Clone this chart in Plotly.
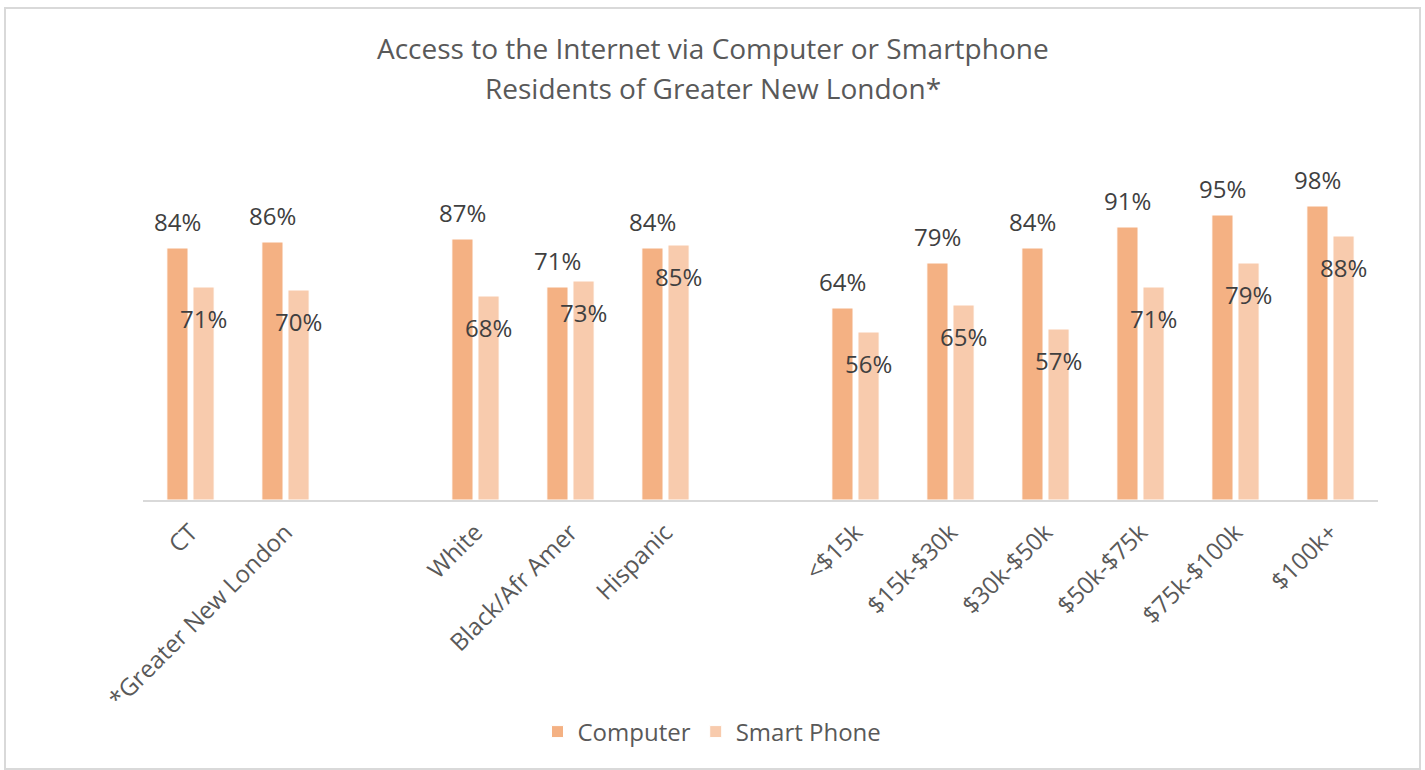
import plotly.graph_objects as go

categories = ["CT", "*Greater New London", " ", "White", "Black/Afr Amer", "Hispanic", "  ",
              "<$15k", "$15k-$30k", "$30k-$50k", "$50k-$75k", "$75k-$100k", "$100k+"]
computer = [0.84, 0.86, None, 0.87, 0.71, 0.84, None, 0.64, 0.79, 0.84, 0.91, 0.95, 0.98]
smart_phone = [0.71, 0.70, None, 0.68, 0.73, 0.85, None, 0.56, 0.65, 0.57, 0.71, 0.79, 0.88]
title_lines = ["Access to the Internet via Computer or Smartphone", "Residents of Greater New London*"]

C_COMP = "#F4B183"
C_PHONE = "#F8CBAD"
FONT = "Open Sans"
W, H = 1425, 770
ML, MR, MT, MB = 143, 47, 200, 270
PW, PH = W - ML - MR, H - MT - MB

fig = go.Figure()
fig.add_trace(go.Bar(name="Computer", x=categories, y=computer,
                     marker=dict(color=C_COMP, line=dict(color="white", width=1))))
fig.add_trace(go.Bar(name="Smart Phone", x=categories, y=smart_phone,
                     marker=dict(color=C_PHONE, line=dict(color="white", width=1))))

ann = []
for c, v in zip(categories, computer):
    if v is not None:
        ann.append(dict(x=c, y=v, xref="x", yref="y", text=f"{round(v*100)}%", showarrow=False,
                        xshift=-13, yshift=27, yanchor="middle",
                        font=dict(family=FONT, size=24, color="#404040")))
for c, v in zip(categories, smart_phone):
    if v is not None:
        ann.append(dict(x=c, y=v, xref="x", yref="y", text=f"{round(v*100)}%", showarrow=False,
                        xshift=13, yshift=-31, yanchor="middle",
                        font=dict(family=FONT, size=24, color="#404040")))
for i, (t, yc) in enumerate(zip(title_lines, [48, 88])):
    ann.append(dict(x=0.5, xref="paper", xanchor="center", xshift=(W / 2) - (ML + PW / 2),
                    y=(H - MB - yc) / PH, yref="paper", yanchor="middle",
                    text=t, showarrow=False,
                    font=dict(family=FONT, size=28, color="#595959")))

fig.update_layout(
    width=W, height=H,
    margin=dict(l=ML, r=MR, t=MT, b=MB, autoexpand=False),
    paper_bgcolor="white", plot_bgcolor="white",
    barmode="group", bargap=0.45, bargroupgap=0.19,
    font=dict(family=FONT, color="#595959"),
    xaxis=dict(type="category", categoryorder="array", categoryarray=categories,
               tickangle=-45, tickfont=dict(family=FONT, size=24, color="#595959"),
               ticklabelstandoff=7,
               showline=True, linecolor="#D9D9D9", linewidth=1.5, ticks="",
               showgrid=False, zeroline=False, automargin=False),
    yaxis=dict(range=[0, 1], visible=False, showgrid=False, zeroline=False),
    showlegend=True,
    legend=dict(orientation="h", xref="paper", x=(712 - ML) / PW, xanchor="center",
                yref="paper", y=(500 - 732) / PH, yanchor="middle",
                font=dict(family=FONT, size=24, color="#595959"),
                itemwidth=30, tracegroupgap=0),
    annotations=ann,
    shapes=[dict(type="rect", xref="paper", yref="paper",
                 x0=(5 - ML) / PW, x1=(1420 - ML) / PW,
                 y0=(500 - 769) / PH, y1=(500 - 8) / PH,
                 line=dict(color="#D9D9D9", width=2), fillcolor="rgba(0,0,0,0)", layer="below")],
)

fig.write_html("out.html", config={"displayModeBar": False},
               post_script="document.body.style.margin='0';")
